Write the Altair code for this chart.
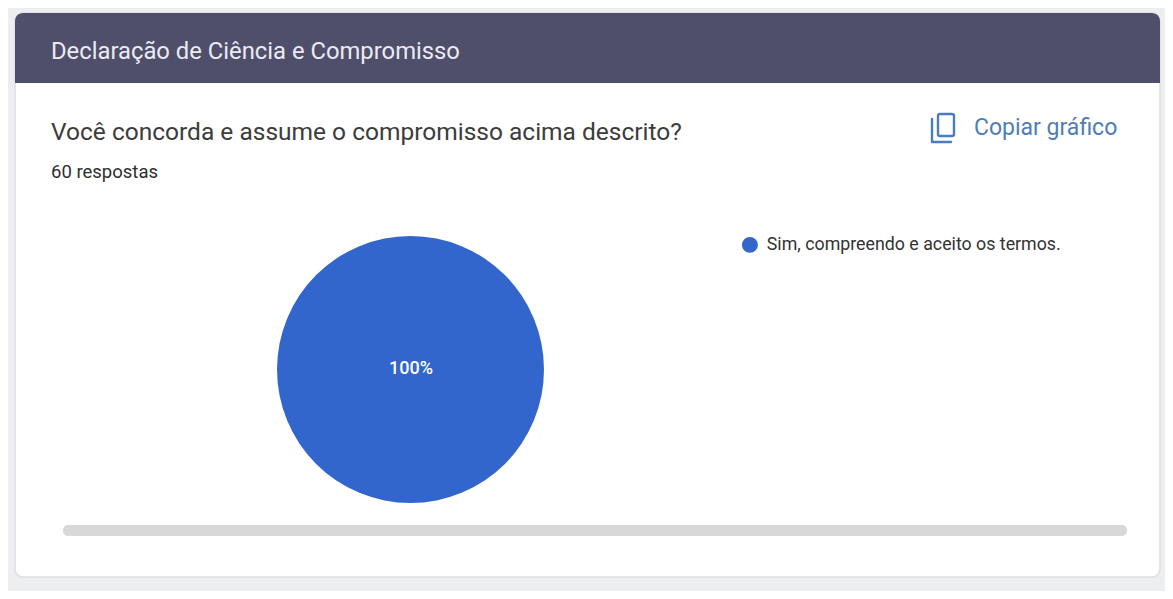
import altair as alt
import pandas as pd

categories = ["Sim, compreendo e aceito os termos."]
values = [100]
pct_labels = ["100%"]
header_title = "Declaração de Ciência e Compromisso"
question = "Você concorda e assume o compromisso acima descrito?"
responses = "60 respostas"
copy_label = "Copiar gráfico"

OX, OY = 8, 8
FONT = "Roboto"
one = alt.Data(values=[{"a": 1}])


def px(v):
    return alt.value(v - OX)


def py(v):
    return alt.value(v - OY)


def box(x0, y0, x1, y1, **mark):
    return alt.Chart(one).mark_rect(**mark).encode(x=px(x0), x2=px(x1), y=py(y0), y2=py(y1))


def label(x, y, s, **mark):
    return alt.Chart(pd.DataFrame({"t": [s]})).mark_text(
        font=FONT, align="left", baseline="middle", **mark
    ).encode(x=px(x), y=py(y), text="t:N")


def seg(x0, y0, x1, y1, color):
    return alt.Chart(one).mark_rule(color=color, strokeWidth=2.4, strokeCap="round").encode(
        x=px(x0), x2=px(x1), y=py(y0), y2=py(y1)
    )


card = box(15, 13, 1160, 577, fill="#ffffff", stroke="#dcdee2", strokeWidth=1.5, cornerRadius=8)
header = box(15, 13, 1160, 83, fill="#4f4f6c", cornerRadiusTopLeft=8, cornerRadiusTopRight=8)
title = label(51, 52, header_title, fontSize=23.8, color="#eceaf2")
q = label(51, 133, question, fontSize=24.5, color="#3c3c3c")
resp = label(51, 172, responses, fontSize=18.5, color="#2e2e2e")

ICON = "#4a7dc0"
icon_front = box(938, 114, 954, 136, fill="#ffffff", stroke=ICON, strokeWidth=2.4, cornerRadius=2)
icon_back1 = seg(932, 119, 932, 141, ICON)
icon_back2 = seg(932, 142, 951, 142, ICON)
copy = label(974, 128, copy_label, fontSize=23, color="#4f7db8")

scroll = box(63, 525, 1127, 536, fill="#d8d8d8", cornerRadius=5)

pie_df = pd.DataFrame({"categoria": categories, "valor": values, "pct": pct_labels})
pie = alt.Chart(pie_df).mark_arc(outerRadius=133.5, innerRadius=0).encode(
    theta=alt.Theta("valor:Q", stack=True),
    x=px(410.5),
    y=py(369.5),
    color=alt.Color(
        "categoria:N",
        scale=alt.Scale(domain=categories, range=["#3366cc"]),
        legend=alt.Legend(
            title=None,
            orient="none",
            legendX=741 - OX,
            legendY=236 - OY,
            symbolType="circle",
            symbolSize=254,
            symbolStrokeWidth=0,
            labelFont=FONT,
            labelFontSize=17.8,
            labelColor="#333333",
            labelOffset=8,
            labelLimit=500,
            padding=0,
        ),
    ),
)
pie_label = alt.Chart(pie_df).mark_text(
    font=FONT, fontSize=18, fontWeight=500, color="#ffffff", align="center", baseline="middle"
).encode(x=px(411), y=py(369), text="pct:N")

chart = alt.layer(
    card, header, title, q, resp, icon_back1, icon_back2, icon_front, copy, scroll, pie, pie_label
).properties(
    width=1157, height=583, background="#eceef0", padding=0,
    autosize=alt.AutoSizeParams(type="none"),
).configure_view(stroke=None)

chart.save("out.html", embed_options={"renderer": "svg", "actions": False})
